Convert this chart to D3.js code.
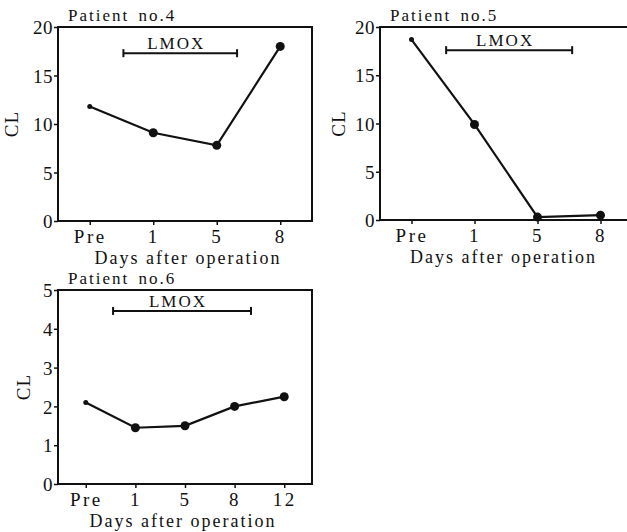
<!DOCTYPE html>
<html>
<head>
<meta charset="utf-8">
<script src="https://cdn.jsdelivr.net/npm/d3@7"></script>
<style>
  body { margin: 0; background: #fff; }
  svg text { font-family: "Liberation Serif", "Times New Roman", serif; fill: #111; }
</style>
</head>
<body>
<div id="chart"></div>
<script>
// data
var days4 = ["Pre", "1", "5", "8"];
var cl4 = [11.8, 9.1, 7.8, 18.0];
var days5 = ["Pre", "1", "5", "8"];
var cl5 = [18.7, 9.9, 0.3, 0.5];
var days6 = ["Pre", "1", "5", "8", "12"];
var cl6 = [2.1, 1.45, 1.5, 2.0, 2.25];

var yTicks20 = [0, 5, 10, 15, 20];
var yTicks5 = [0, 1, 2, 3, 4, 5];

// LMOX period, in category-index units, and its level on the CL axis
var lmox4 = [0.53, 2.32], lmoxLevel4 = 17.3;
var lmox5 = [0.55, 2.55], lmoxLevel5 = 17.6;
var lmox6 = [0.55, 3.33], lmoxLevel6 = 4.46;

var serif = "'Liberation Serif', 'Times New Roman', serif";

var svg = d3.select("#chart").append("svg")
    .attr("width", 627)
    .attr("height", 532);

function drawPanel(p) {
  var g = svg.append("g");

  // set the ranges
  var x = d3.scalePoint().domain(p.days).range([p.left, p.right]).padding(p.pad);
  var y = d3.scaleLinear().domain([0, p.ymax]).range([p.bottom, p.top]);
  // fractional category position -> pixel
  var xi = function(i) { return x(p.days[0]) + i * x.step(); };

  // frame
  g.append("rect")
      .attr("x", p.left).attr("y", p.top)
      .attr("width", p.right - p.left).attr("height", p.bottom - p.top)
      .style("fill", "none").style("stroke", "#111").style("stroke-width", 2);

  // y axis
  var ya = g.append("g")
      .attr("transform", "translate(" + p.left + ",0)")
      .attr("font-family", serif)
      .call(d3.axisLeft(y).tickValues(p.yTicks).tickSize(4).tickPadding(1).tickFormat(d3.format("d")));
  ya.select(".domain").remove();
  ya.selectAll("line").style("stroke", "#111").style("stroke-width", 1.5);
  ya.selectAll("text").style("font-family", serif).style("font-size", "19px")
      .style("letter-spacing", "0.5px").attr("dy", "0.35em");

  // x axis
  var xa = g.append("g")
      .attr("transform", "translate(0," + p.bottom + ")")
      .attr("font-family", serif)
      .call(d3.axisBottom(x).tickSize(4).tickPadding(3));
  xa.select(".domain").remove();
  xa.selectAll("line").style("stroke", "#111").style("stroke-width", 1.5);
  xa.selectAll("text").style("font-family", serif).style("font-size", "19px")
      .style("letter-spacing", "2.5px").attr("dy", "0.78em");

  // labels
  g.append("text")
      .attr("x", p.left + 10).attr("y", p.top - 6)
      .style("font-family", serif).style("font-size", "17px")
      .style("letter-spacing", "2px").style("word-spacing", "3px")
      .text(p.title);

  g.append("text")
      .attr("text-anchor", "middle")
      .attr("transform", "translate(" + p.ylabX + "," + (p.top + p.bottom) / 2 + ")rotate(-90)")
      .style("font-family", serif).style("font-size", "19px").style("letter-spacing", "1px")
      .text("CL");

  g.append("text")
      .attr("text-anchor", "middle")
      .attr("x", (p.left + Math.min(p.right, 627)) / 2 + p.titleShift).attr("y", p.bottom + 43)
      .style("font-family", serif).style("font-size", "18px").style("letter-spacing", "2px")
      .text("Days after operation");

  // LMOX bar
  var x0 = xi(p.lmox[0]), x1 = xi(p.lmox[1]), yb = y(p.lmoxLevel);
  g.append("line").attr("x1", x0).attr("x2", x1).attr("y1", yb).attr("y2", yb)
      .style("stroke", "#111").style("stroke-width", 2);
  g.selectAll("cap").data(p.lmox).enter().append("line")
      .attr("x1", function(d) { return xi(d); }).attr("x2", function(d) { return xi(d); })
      .attr("y1", yb - 4).attr("y2", yb + 4)
      .style("stroke", "#111").style("stroke-width", 2);
  g.append("text")
      .attr("text-anchor", "middle")
      .attr("x", (x0 + x1) / 2 - 4).attr("y", yb - 4)
      .style("font-family", serif).style("font-size", "17px").style("letter-spacing", "2px")
      .text("LMOX");

  // line and points
  var pts = p.days.map(function(d, i) { return {day: d, cl: p.cl[i]}; });
  var line = d3.line()
      .x(function(d) { return x(d.day); })
      .y(function(d) { return y(d.cl); });
  g.append("path")
      .datum(pts)
      .style("fill", "none").style("stroke", "#111").style("stroke-width", 2.2)
      .attr("d", line);
  g.selectAll("dot").data(pts).enter().append("circle")
      .attr("r", function(d, i) { return i === 0 ? 2.5 : 4.5; })
      .attr("cx", function(d) { return x(d.day); })
      .attr("cy", function(d) { return y(d.cl); })
      .style("fill", "#111");
}

drawPanel({title: "Patient no.4", days: days4, cl: cl4, yTicks: yTicks20, ymax: 20,
  lmox: lmox4, lmoxLevel: lmoxLevel4, left: 58, right: 312, top: 27, bottom: 221,
  pad: 0.5, ylabX: 18, titleShift: 3});
drawPanel({title: "Patient no.5", days: days5, cl: cl5, yTicks: yTicks20, ymax: 20,
  lmox: lmox5, lmoxLevel: lmoxLevel5, left: 380, right: 632, top: 27, bottom: 220,
  pad: 0.5, ylabX: 345, titleShift: 0});
drawPanel({title: "Patient no.6", days: days6, cl: cl6, yTicks: yTicks5, ymax: 5,
  lmox: lmox6, lmoxLevel: lmoxLevel6, left: 58, right: 312, top: 290, bottom: 484,
  pad: 0.56, ylabX: 30, titleShift: -2});
</script>
</body>
</html>
